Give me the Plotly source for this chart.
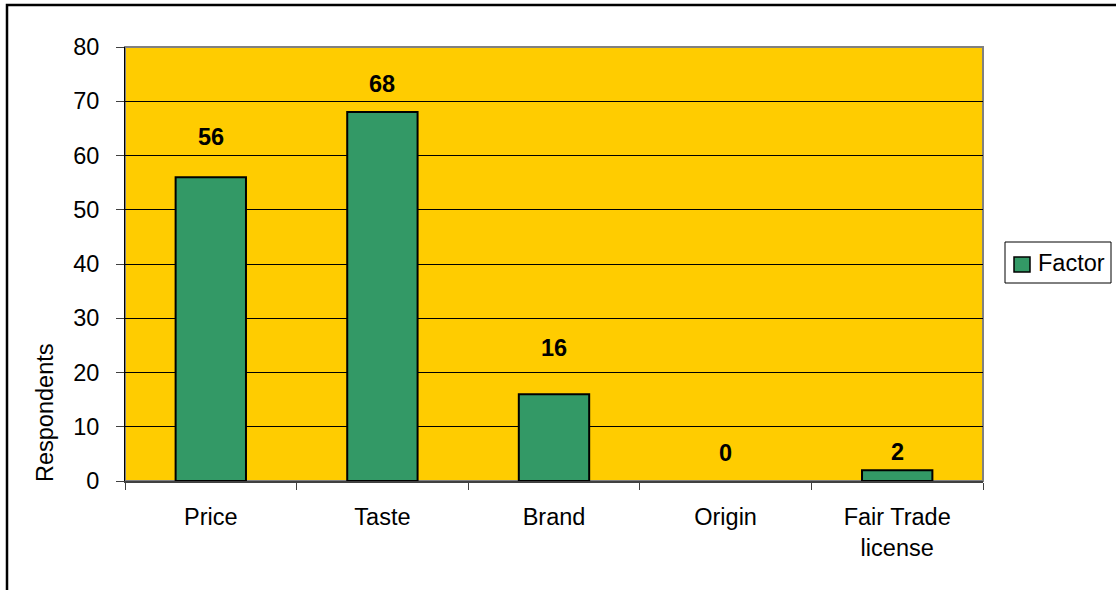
import plotly.graph_objects as go

# Survey: factors respondents consider when buying
categories = ["Price", "Taste", "Brand", "Origin", "Fair Trade<br>license"]
respondents = [56, 68, 16, 0, 2]
series_name = "Factor"
y_ticks = [0, 10, 20, 30, 40, 50, 60, 70, 80]

# vertical lift (px) of each value label above its bar top
label_lift = [40, 28, 46, 28, 18]

FONT = "Liberation Sans, Arial, Helvetica, sans-serif"
FS = 23.5
BAR_COLOR = "#339966"

W, H = 1116, 590
L, R, T, B = 125, 133, 47, 109
pw, ph = W - L - R, H - T - B


def px_x(px):
    return (px - L) / pw


def px_y(py):
    return (H - B - py) / ph


fig = go.Figure()
fig.add_trace(go.Bar(
    x=categories,
    y=respondents,
    name=series_name,
    marker=dict(
        color=BAR_COLOR,
        # empty bars get no outline
        line=dict(color="#000000", width=[2 if v else 0 for v in respondents]),
    ),
    showlegend=False,
))

# value labels above the bars
for cat, val, lift in zip(categories, respondents, label_lift):
    fig.add_annotation(
        x=cat, y=val, xref="x", yref="y",
        text=f"<b>{val}</b>", showarrow=False,
        yshift=lift, yanchor="middle",
        font=dict(family=FONT, size=FS, color="#000000"),
    )

# y axis title
fig.add_annotation(
    x=px_x(45), y=px_y(413), xref="paper", yref="paper",
    text="Respondents", textangle=-90, showarrow=False,
    xanchor="center", yanchor="middle",
    font=dict(family=FONT, size=FS, color="#000000"),
)

# grey frame on the plot area (top/right)
fig.add_shape(type="rect", xref="paper", yref="paper",
              x0=0, x1=1, y0=0, y1=1,
              line=dict(color="#808080", width=2), layer="below")

# outer chart border
fig.add_shape(type="rect", xref="paper", yref="paper",
              x0=px_x(7), x1=px_x(W + 6), y0=px_y(H + 6), y1=px_y(5),
              line=dict(color="#000000", width=2.5))

# legend box with swatch and series name
fig.add_shape(type="rect", xref="paper", yref="paper",
              x0=px_x(1005), x1=px_x(1111), y0=px_y(283), y1=px_y(242),
              line=dict(color="#000000", width=1), fillcolor="#FFFFFF")
fig.add_shape(type="rect", xref="paper", yref="paper",
              x0=px_x(1014), x1=px_x(1030), y0=px_y(272), y1=px_y(257),
              line=dict(color="#000000", width=1.5), fillcolor=BAR_COLOR)
fig.add_annotation(
    x=px_x(1036), y=px_y(263), xref="paper", yref="paper",
    text=series_name, showarrow=False, xanchor="left", yanchor="middle",
    font=dict(family=FONT, size=FS, color="#000000"),
)

fig.update_layout(
    width=W, height=H,
    margin=dict(l=L, r=R, t=T, b=B, pad=0, autoexpand=False),
    paper_bgcolor="#FFFFFF",
    plot_bgcolor="#FFCC00",
    bargap=0.59,
    font=dict(family=FONT, size=FS, color="#000000"),
    showlegend=False,
    xaxis=dict(
        type="category",
        showline=True, linecolor="#404040", linewidth=2,
        ticks="outside", tickson="boundaries", ticklen=7,
        tickcolor="#404040", tickwidth=1,
        ticklabelstandoff=14,
        showgrid=False, zeroline=False,
        tickfont=dict(family=FONT, size=FS, color="#000000"),
    ),
    yaxis=dict(
        range=[0, 80],
        tickvals=y_ticks,
        showline=True, linecolor="#000000", linewidth=1,
        ticks="outside", ticklen=8, tickcolor="#404040", tickwidth=1,
        ticklabelstandoff=12,
        showgrid=True, gridcolor="#000000", gridwidth=1,
        zeroline=False,
        tickfont=dict(family=FONT, size=FS, color="#000000"),
    ),
)

fig.write_html("out.html")
